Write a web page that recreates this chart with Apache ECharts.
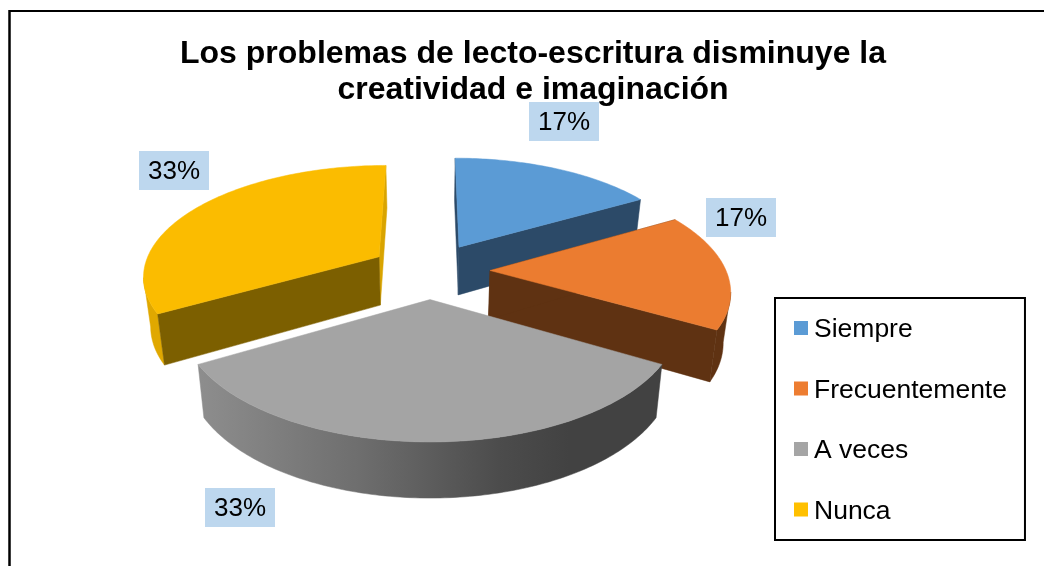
<!DOCTYPE html>
<html>
<head>
<meta charset="utf-8">
<style>
  html, body { margin: 0; padding: 0; background: #fff; }
  #chart { width: 1044px; height: 566px; }
</style>
<script src="https://cdn.jsdelivr.net/npm/echarts@6/dist/echarts.min.js"></script>
</head>
<body>
<div id="chart"></div>
<script>
const titleText = 'Los problemas de lecto-escritura disminuye la\ncreatividad e imaginación';
const categories = ['Siempre', 'Frecuentemente', 'A veces', 'Nunca'];
const values = [1, 1, 2, 2];

const topColors = ['#5B9BD5', '#EB7C30', '#A4A4A4', '#FBBC00'];
const cutColors = ['#2C4A68', '#5F3212', '#7A7A7A', '#7C5F00'];
const wallColors = ['#2C4A68', '#5F3212', null, '#E0A800'];
const legendColors = ['#5B9BD5', '#ED7D31', '#A5A5A5', '#FFC000'];

// data labels: centre of each light blue box, by category
const labelCenters = [[564, 122], [741, 218], [240, 508], [174, 171]];

// painted back to front
const paintOrder = [0, 3, 1, 2];

// fake 3d pie, the excel look: perspective ground plane
const cx = 430, cy = 270.5;
const radius = 236, explode = 60;
const depth = 1500, tilt = 0.465, shrink = 0.975;

const total = values.reduce((a, b) => a + b, 0);

function project(groundX, groundY, bottom) {
  // groundY grows towards the viewer
  const s = depth / (depth - groundY);
  const x = groundX * s;
  const y = tilt * groundY * s;
  if (!bottom) return [cx + x, cy + y];
  return [cx + x * shrink, cy + y + 49 + 0.024 * groundY];
}

function sliceAngles(i) {
  let before = 0;
  for (let k = 0; k < i; k++) before += values[k];
  const start = before / total * Math.PI * 2;
  return [start, start + values[i] / total * Math.PI * 2];
}

function rimPoint(i, angle, bottom) {
  const [a0, a1] = sliceAngles(i);
  const mid = (a0 + a1) / 2;
  const ox = explode * Math.sin(mid), oy = -explode * Math.cos(mid);
  return project(ox + radius * Math.sin(angle), oy - radius * Math.cos(angle), bottom);
}

function apexPoint(i, bottom) {
  const [a0, a1] = sliceAngles(i);
  const mid = (a0 + a1) / 2;
  return project(explode * Math.sin(mid), -explode * Math.cos(mid), bottom);
}

function rim(i, bottom) {
  const [a0, a1] = sliceAngles(i);
  const pts = [];
  const steps = Math.round((a1 - a0) / Math.PI * 180);
  for (let n = 0; n <= steps; n++) pts.push(rimPoint(i, a0 + (a1 - a0) * n / steps, bottom));
  return pts;
}

function poly(points, fill) {
  return { type: 'polygon', shape: { points: points }, style: { fill: fill, stroke: fill, lineWidth: 0.5 } };
}

const grayWall = {
  type: 'linear', x: 196, y: 0, x2: 662, y2: 0, global: true,
  colorStops: [
    { offset: 0, color: '#8E8E8E' },
    { offset: 0.35, color: '#6E6E6E' },
    { offset: 0.65, color: '#4C4C4C' },
    { offset: 0.8, color: '#424242' },
    { offset: 1, color: '#424242' }
  ]
};

// part of the rim that faces the viewer, it ends at the silhouette
function wallRange(i, top) {
  const xs = top.map(p => p[0]);
  if (i === 1) return [xs.indexOf(Math.max(...xs)), top.length];
  if (i === 3) return [0, xs.indexOf(Math.min(...xs)) + 1];
  if (i === 2) return [0, top.length];
  return [0, 0];
}

function renderSlice(params, api) {
  const i = params.seriesIndex;
  const [a0, a1] = sliceAngles(i);
  const top = rim(i, false);
  const bot = rim(i, true);
  const apexT = apexPoint(i, false);
  const apexB = apexPoint(i, true);
  const children = [];
  const [from, to] = wallRange(i, top);
  if (to > from) {
    children.push(poly(
      top.slice(from, to).concat(bot.slice(from, to).reverse()),
      wallColors[i] || grayWall
    ));
  }
  // the gray slice shows its back to both cuts
  if (i !== 2) {
    children.push(poly([apexT, rimPoint(i, a1, false), rimPoint(i, a1, true), apexB], i === 3 ? '#D9A400' : cutColors[i]));
    children.push(poly([apexT, rimPoint(i, a0, false), rimPoint(i, a0, true), apexB], cutColors[i]));
  }
  children.push(poly([apexT].concat(top), topColors[i]));
  const [lx, ly] = labelCenters[i];
  children.push({
    type: 'rect',
    shape: { x: lx - 35, y: ly - 20, width: 70, height: 39 },
    style: { fill: '#BDD7EE' }
  });
  children.push({
    type: 'text',
    x: lx,
    y: ly + 1,
    style: {
      text: Math.round(api.value(0) / total * 100) + '%',
      fontFamily: '"Liberation Sans", Arial, sans-serif',
      fontSize: 26,
      fill: '#000',
      align: 'center',
      verticalAlign: 'middle'
    }
  });
  return { type: 'group', children: children };
}

const chart = echarts.init(document.getElementById('chart'));

chart.setOption({
  animation: false,
  backgroundColor: '#fff',
  title: {
    text: titleText,
    left: 528,
    top: 31,
    textAlign: 'center',
    textStyle: {
      fontFamily: '"Liberation Sans", Arial, sans-serif',
      fontSize: 32,
      fontWeight: 'bold',
      color: '#000',
      lineHeight: 36
    }
  },
  legend: {
    orient: 'vertical',
    left: 775,
    top: 298,
    padding: [17, 18, 13.5, 19],
    itemWidth: 14,
    itemHeight: 18,
    itemGap: 30.5,
    // square sits at the top of the item box so the text lands 2px lower, as in word
    icon: 'path://M0,0H14V14H0ZM0,18H14V18H0Z',
    selectedMode: false,
    borderColor: '#000',
    borderWidth: 2,
    data: categories,
    textStyle: {
      fontFamily: '"Liberation Sans", Arial, sans-serif',
      fontSize: 26.5,
      color: '#000',
      lineHeight: 30,
      padding: [0, 0, 0, 1]
    }
  },
  graphic: [
    { type: 'line', z: 0, shape: { x1: 9, y1: 11, x2: 1044, y2: 11 }, style: { stroke: '#000', lineWidth: 2 } },
    { type: 'line', z: 0, shape: { x1: 9.5, y1: 10, x2: 9.5, y2: 566 }, style: { stroke: '#000', lineWidth: 2.5 } }
  ],
  series: categories.map((name, i) => ({
    name: name,
    type: 'custom',
    coordinateSystem: 'none',
    z: 10 + paintOrder.indexOf(i),
    silent: true,
    itemStyle: { color: legendColors[i] },
    renderItem: renderSlice,
    data: [values[i]]
  }))
});
</script>
</body>
</html>
